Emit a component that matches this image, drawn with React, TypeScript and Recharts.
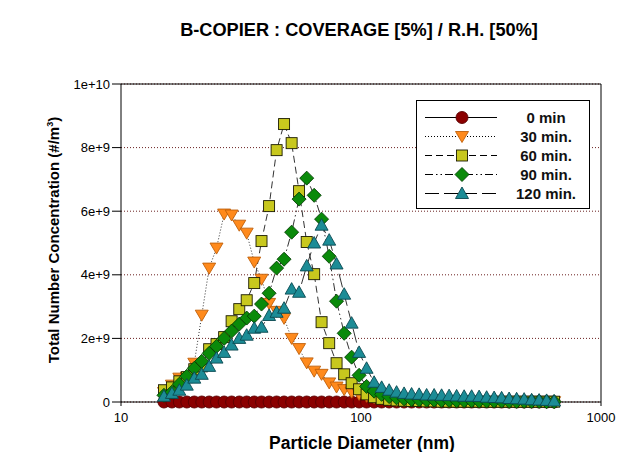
import React from 'react';
import { LineChart, Line, XAxis, YAxis, CartesianGrid, ReferenceLine } from 'recharts';

// particle diameters (nm), SMPS channels
const diameters = [
  15.1, 16.3, 17.5, 18.8, 20.2, 21.7, 23.3, 25.0, 26.9, 28.9, 31.1, 33.4, 35.9, 38.5,
  41.4, 44.5, 47.8, 51.4, 55.2, 59.4, 63.8, 68.5, 73.7, 79.1, 85.1, 91.4, 98.2, 105.5,
  113.4, 121.9, 131.0, 140.7, 151.2, 162.5, 174.7, 187.7, 201.7, 216.7, 232.9, 250.3,
  269.0, 289.0, 310.6, 333.8, 358.7, 385.4, 414.2, 445.1, 478.3, 514.0, 552.3, 593.5, 637.8,
];

// concentrations in units of 1e9 #/m3
const min0 = [
  0, 0, 0, 0, 0, 0, 0, 0, 0, 0, 0, 0, 0, 0, 0, 0, 0, 0, 0, 0, 0, 0, 0, 0, 0, 0, 0,
  0, 0, 0, 0, 0, 0, 0, 0, 0, 0, 0, 0, 0, 0, 0, 0, 0, 0, 0, 0, 0, 0, 0, 0, 0, 0,
];
const min30 = [
  0.30, 0.53, 0.75, 0.78, 1.22, 2.73, 4.21, 4.84, 5.91, 5.88, 5.56, 5.31, 4.40, 3.86,
  3.10, 2.85, 2.63, 2.00, 1.68, 1.23, 0.97, 0.87, 0.60, 0.47, 0.39, 0.31, 0.24, 0.18,
  0.13, 0.10, 0.07, 0.05, 0.04, 0.03, 0.03, 0.02, 0.02, 0.01, 0.01, 0.01, 0.01, 0.01,
  0.01, 0.01, 0.01, 0.01, 0.01, 0.01, 0.01, 0.01, 0.01, 0.01, 0.01,
];
const min60 = [
  0.37, 0.46, 0.65, 0.78, 1.03, 1.12, 1.66, 1.82, 2.04, 2.54, 2.92, 3.20, 3.74, 5.06,
  6.16, 7.92, 8.74, 8.14, 6.63, 5.03, 4.02, 2.51, 1.85, 1.22, 0.87, 0.59, 0.40, 0.24,
  0.15, 0.10, 0.07, 0.05, 0.04, 0.03, 0.03, 0.02, 0.02, 0.01, 0.01, 0.01, 0.01, 0.01,
  0.01, 0.01, 0.01, 0.01, 0.01, 0.01, 0.01, 0.01, 0.01, 0.01, 0.01,
];
const min90 = [
  0.21, 0.31, 0.56, 0.81, 1.06, 1.28, 1.53, 1.75, 2.00, 2.23, 2.45, 2.64, 2.70, 3.08,
  3.42, 4.21, 4.49, 5.34, 6.38, 7.04, 6.50, 5.75, 4.58, 3.17, 2.16, 1.41, 0.84, 0.49,
  0.34, 0.24, 0.17, 0.13, 0.10, 0.08, 0.07, 0.06, 0.06, 0.05, 0.05, 0.04, 0.04, 0.04,
  0.03, 0.03, 0.03, 0.03, 0.02, 0.02, 0.02, 0.02, 0.02, 0.01, 0.01,
];
const min120 = [
  0.18, 0.27, 0.37, 0.53, 0.75, 0.87, 1.12, 1.38, 1.56, 1.79, 2.00, 2.10, 2.32, 2.35,
  2.72, 2.82, 2.95, 3.55, 3.45, 4.28, 5.00, 5.56, 5.09, 4.34, 3.39, 2.48, 1.56, 1.06,
  0.62, 0.46, 0.37, 0.31, 0.27, 0.25, 0.24, 0.22, 0.22, 0.21, 0.20, 0.19, 0.18, 0.18,
  0.17, 0.15, 0.14, 0.13, 0.11, 0.10, 0.09, 0.07, 0.06, 0.05, 0.03,
];

const xTicks = [10, 100, 1000];
const yTicks = [0, 2, 4, 6, 8, 10];

const FONT = '"Liberation Sans", Arial, Helvetica, sans-serif';

type Shape = 'circle' | 'triDown' | 'square' | 'diamond' | 'triUp';

const series: { key: string; name: string; values: number[]; shape: Shape; fill: string; stroke: string; dash?: string }[] = [
  { key: 'm0', name: '0 min', values: min0, shape: 'circle', fill: '#8b0000', stroke: '#5a0000' },
  { key: 'm30', name: '30 min.', values: min30, shape: 'triDown', fill: '#ff8a1c', stroke: '#c0600a', dash: '1 2' },
  { key: 'm60', name: '60 min.', values: min60, shape: 'square', fill: '#c8c81e', stroke: '#1a1a00', dash: '7 4' },
  { key: 'm90', name: '90 min.', values: min90, shape: 'diamond', fill: '#0a8a0a', stroke: '#034003', dash: '8 3 1.5 3 1.5 3' },
  { key: 'm120', name: '120 min.', values: min120, shape: 'triUp', fill: '#1c8c96', stroke: '#0a4850', dash: '14 5' },
];

const rows = diameters.map((d, i) => {
  const r: Record<string, number> = { d };
  series.forEach((s) => { r[s.key] = s.values[i]; });
  return r;
});

function Marker({ shape, cx, cy, fill, stroke }: { shape: Shape; cx: number; cy: number; fill: string; stroke: string }) {
  const common = { fill, stroke, strokeWidth: 0.9 };
  switch (shape) {
    case 'circle':
      return <circle cx={cx} cy={cy} r={6} {...common} />;
    case 'triDown':
      return <polygon points={`${cx - 6.5},${cy - 5} ${cx + 6.5},${cy - 5} ${cx},${cy + 6}`} {...common} />;
    case 'square':
      return <rect x={cx - 5.5} y={cy - 5.5} width={11} height={11} {...common} />;
    case 'diamond':
      return <polygon points={`${cx},${cy - 7} ${cx + 7},${cy} ${cx},${cy + 7} ${cx - 7},${cy}`} {...common} />;
    default:
      return <polygon points={`${cx},${cy - 6.5} ${cx + 6.5},${cy + 5} ${cx - 6.5},${cy + 5}`} {...common} />;
  }
}

const fmtY = (v: number) => (v === 0 ? '0' : (v * 1e9).toExponential());

export default function App() {
  return (
    <div style={{ position: 'relative', width: 619, height: 444, fontFamily: FONT, color: '#000' }}>
      <div style={{ position: 'absolute', left: 101, top: 11, width: 500, textAlign: 'center', fontWeight: 'bold', fontSize: 18.2, lineHeight: '22px' }}>
        B-COPIER : COVERAGE [5%] / R.H. [50%]
      </div>

      <LineChart width={619} height={444} data={rows} margin={{ top: 76, right: 26, bottom: 20, left: 53 }}>
        <CartesianGrid vertical={false} stroke="#6b2020" strokeDasharray="1 2" />
        <XAxis
          dataKey="d"
          type="number"
          scale="log"
          domain={[10, 1000]}
          ticks={xTicks}
          allowDataOverflow
          height={30}
          tickSize={4}
          tickMargin={7}
          stroke="#000"
          tick={{ fill: '#000', fontSize: 13, fontFamily: FONT }}
        />
        <YAxis
          type="number"
          domain={[0, 10]}
          ticks={yTicks}
          width={60}
          tickSize={9}
          tickMargin={2}
          tickFormatter={fmtY}
          stroke="#000"
          tick={{ fill: '#000', fontSize: 13, fontFamily: FONT }}
        />
        <ReferenceLine y={10} stroke="#000" />
        <ReferenceLine x={1000} stroke="#000" />
        {series.map((s) => (
          <Line
            key={s.key}
            dataKey={s.key}
            type="linear"
            stroke="#333"
            strokeWidth={1}
            strokeDasharray={s.dash}
            isAnimationActive={false}
            activeDot={false}
            dot={(p: any) => (
              <Marker key={`${s.key}-${p.index}`} shape={s.shape} cx={p.cx} cy={p.cy} fill={s.fill} stroke={s.stroke} />
            )}
          />
        ))}
      </LineChart>

      <div
        style={{
          position: 'absolute', left: 45, top: 232, transform: 'translate(-50%, -50%) rotate(-90deg)',
          whiteSpace: 'nowrap', fontWeight: 'bold', fontSize: 15,
        }}
      >
        Total Number Concentration (#/m<sup style={{ fontSize: 9 }}>3</sup>)
      </div>

      <div style={{ position: 'absolute', left: 154, top: 426, width: 400, textAlign: 'center', fontWeight: 'bold', fontSize: 17.5, lineHeight: '18px' }}>
        Particle Diameter (nm)
      </div>

      <div
        style={{
          position: 'absolute', left: 408, top: 92, width: 174, height: 109, border: '1px solid #000',
          background: '#fff', boxSizing: 'border-box',
        }}
      >
        {series.map((s, i) => (
          <div key={s.key} style={{ position: 'absolute', left: 0, top: 6.5 + 19 * i, height: 19, width: '100%' }}>
            <svg width={90} height={19} style={{ position: 'absolute', left: 0, top: 0 }}>
              <line x1={8} x2={80} y1={9.5} y2={9.5} stroke="#000" strokeWidth={1} strokeDasharray={s.dash} />
              <Marker shape={s.shape} cx={45} cy={9.5} fill={s.fill} stroke={s.stroke} />
            </svg>
            <span
              style={{
                position: 'absolute', left: 89, width: 80, textAlign: 'center', lineHeight: '19px',
                fontWeight: 'bold', fontSize: 15, color: '#111',
              }}
            >
              {s.name}
            </span>
          </div>
        ))}
      </div>
    </div>
  );
}
